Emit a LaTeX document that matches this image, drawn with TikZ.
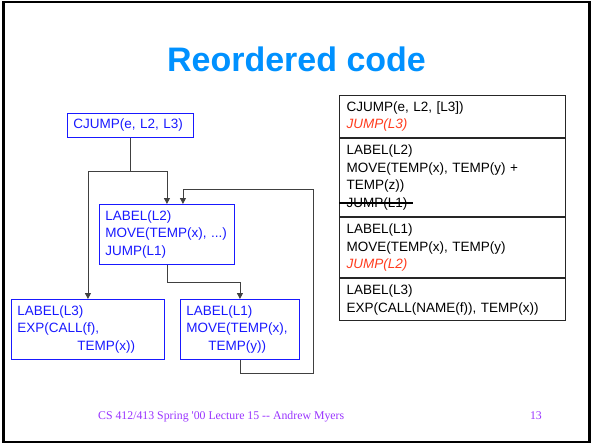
\documentclass[tikz,border=0pt]{standalone}
\usepackage{fontspec}
\setmainfont{Liberation Sans}
\newfontfamily\footfont{Liberation Serif}
\usetikzlibrary{arrows.meta}
\definecolor{titleblue}{RGB}{0,145,255}
\definecolor{boxblue}{RGB}{25,25,255}
\definecolor{jumpred}{RGB}{255,60,30}
\definecolor{footviolet}{RGB}{153,51,255}
\begin{document}
\begin{tikzpicture}[x=1pt,y=-1pt,
  codefont/.style={font=\fontsize{13.5}{17.6}\selectfont},
  cfgbox/.style={draw=boxblue, line width=0.9pt, text=boxblue, codefont,
    align=left, anchor=north west, inner xsep=6pt, inner ysep=0pt},
  rowbox/.style={draw=black!85, line width=1.1pt, text=black, codefont,
    align=left, anchor=north west, inner xsep=7pt, inner ysep=0pt,
    text width=212pt},
  conn/.style={draw=black!75, line width=0.9pt},
  flow/.style={conn, -{Triangle[length=6pt,width=6pt]}},
]
\useasboundingbox (0,0) rectangle (592,444);
% slide frame
\draw[line width=2.7pt] (3.3,2) rectangle (589.5,442);

% title
\node[anchor=base, font=\bfseries\fontsize{34}{40}\selectfont,
  text=titleblue, inner sep=0pt] (title) at (296.5,72) {Reordered code};

% control flow graph
\node[cfgbox, text width=114pt, minimum height=24pt] (cj) at (67,113)
  {CJUMP(e, L2, L3)};
\node[cfgbox, text width=123pt, minimum height=60pt] (l2) at (99,204)
  {LABEL(L2)\\MOVE(TEMP(x), ...)\\JUMP(L1)};
\node[cfgbox, text width=141pt, minimum height=60pt] (l3) at (11,299)
  {LABEL(L3)\\EXP(CALL(f),\\\hspace*{60pt}TEMP(x))};
\node[cfgbox, text width=107pt, minimum height=60pt] (l1) at (180,299)
  {LABEL(L1)\\MOVE(TEMP(x),\\\hspace*{22pt}TEMP(y))};

\coordinate (loopbottom) at (313,373);
\coordinate (looptop) at (313,189);

\draw[conn] (cj.south) -- ++(0,34) coordinate (split);
\draw[flow] (split) -| (l3.north);
\draw[flow] (split) -| (l2.north);
\draw[flow] (l2.south) -- ++(0,18) -| (l1.north);
\draw[flow] (l1.south) |- (loopbottom) -- (looptop) -| ([xshift=16pt]l2.north);

% reordered code listing
\node[rowbox, minimum height=42pt] (r1) at (339,95)
  {CJUMP(e, L2, [L3])\\{\color{jumpred}\itshape JUMP(L3)}};
\node[rowbox, minimum height=78pt] (r2) at (r1.south west)
  {LABEL(L2)\\MOVE(TEMP(x), TEMP(y) +\\TEMP(z))\\JUMP(L1)};
\node[rowbox, minimum height=60pt] (r3) at (r2.south west)
  {LABEL(L1)\\MOVE(TEMP(x), TEMP(y)\\{\color{jumpred}\itshape JUMP(L2)}};
\node[rowbox, minimum height=42pt] (r4) at (r3.south west)
  {LABEL(L3)\\EXP(CALL(NAME(f)), TEMP(x))};
% struck-out jump
\draw[line width=1.6pt] (339,203) -- (413,203);

% footer
\node[anchor=base west, font=\footfont\fontsize{11.8}{14}\selectfont,
  text=footviolet, inner sep=0pt] (foot) at (98,419)
  {CS 412/413 Spring '00 Lecture 15 -\kern0pt- Andrew Myers};
\node[anchor=base east, font=\footfont\fontsize{11.8}{14}\selectfont,
  text=footviolet, inner sep=0pt] (pageno) at (542,419) {13};
\end{tikzpicture}
\end{document}
